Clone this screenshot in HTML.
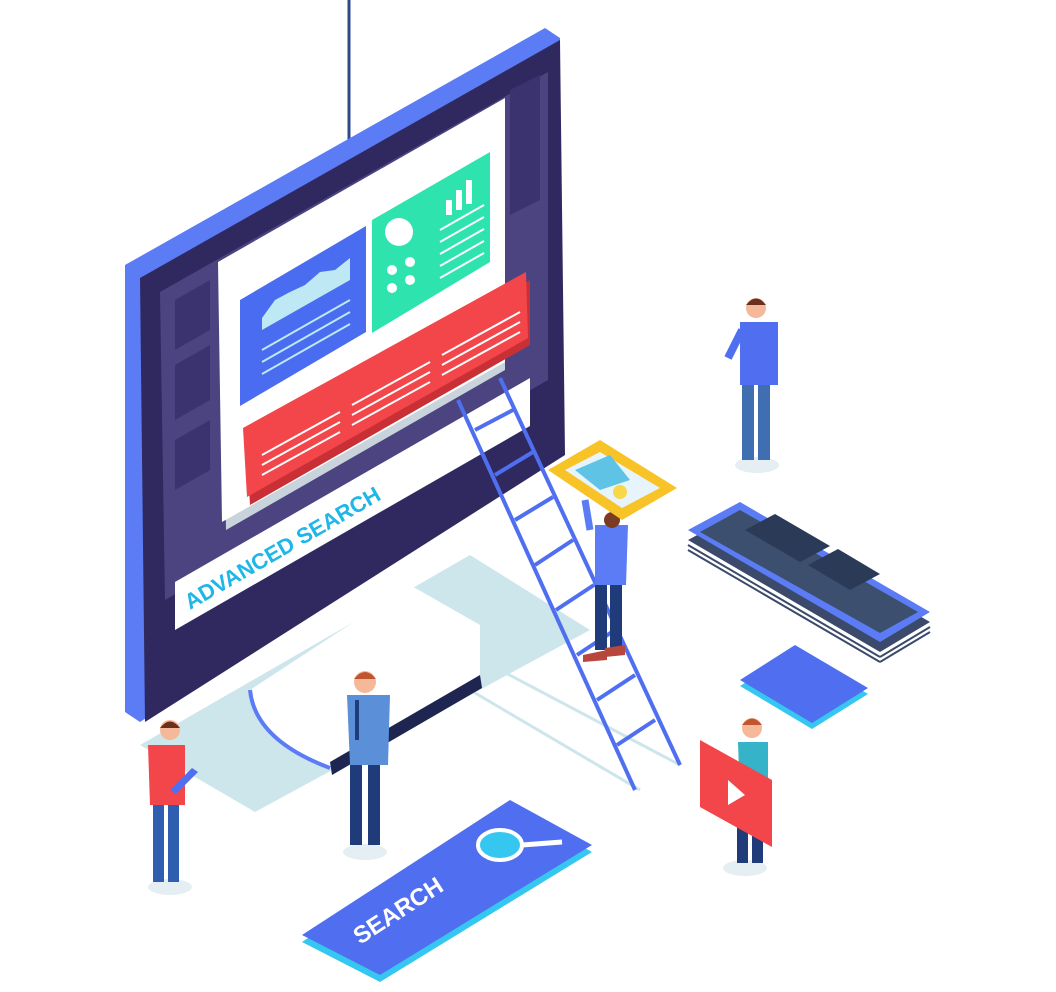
<!DOCTYPE html>
<html><head><meta charset="utf-8"><style>
html,body{margin:0;padding:0;background:#fff;}
svg{display:block;}
</style></head><body>
<svg width="1056" height="992" viewBox="0 0 1056 992" xmlns="http://www.w3.org/2000/svg">
<line x1="349" y1="0" x2="349" y2="196" stroke="#2e4a8e" stroke-width="3"/>
<polygon points="140,745 470,555 590,630 255,812" fill="#cde6ec"/>
<g stroke="#cde6ec" stroke-width="3" fill="none">
<line x1="470" y1="690" x2="640" y2="790"/><line x1="500" y1="670" x2="680" y2="765"/>
</g>
<!-- stand -->
<path d="M250,690 L410,585 L480,625 L480,680 L330,768 Q260,740 250,690 Z" fill="#fff"/>
<path d="M250,690 Q255,740 330,768" fill="none" stroke="#5b7cf5" stroke-width="4"/>
<polygon points="330,762 480,675 482,688 332,775" fill="#1d2550"/>
<!-- monitor -->
<polygon points="125,265 545,28 560,38 560,452 140,722 125,712" fill="#5b7cf5"/>
<polygon points="140,278 560,40 565,455 145,722" fill="#2f2960"/>
<polygon points="160,292 548,72 548,380 165,600" fill="#4b4480"/>
<g fill="#3a3370">
<polygon points="175,300 210,280 210,330 175,350"/>
<polygon points="175,365 210,345 210,400 175,420"/>
<polygon points="175,440 210,420 210,470 175,490"/>
<polygon points="510,90 540,75 540,200 510,215"/>
</g>
<polygon points="175,582 530,378 530,426 175,630" fill="#fff"/>
<text x="0" y="0" transform="translate(190,610) rotate(-30)" font-family="Liberation Sans, sans-serif" font-weight="bold" font-size="22" fill="#1fb6e8">ADVANCED SEARCH</text>
<polygon points="222,270 505,105 505,370 226,530" fill="#c9d3dc"/>
<polygon points="218,262 505,98 505,362 222,522" fill="#fff"/>
<polygon points="240,300 366,226 366,332 240,406" fill="#4a6cf0"/>
<path d="M262,318 L275,300 L290,292 L305,285 L320,272 L335,270 L350,258 L350,280 L262,330 Z" fill="#bfe8f5"/>
<g stroke="#bfe8f5" stroke-width="2"><line x1="262" y1="350" x2="350" y2="300"/><line x1="262" y1="362" x2="350" y2="312"/><line x1="262" y1="374" x2="350" y2="324"/></g>
<polygon points="372,220 490,152 490,262 372,333" fill="#2ee3ad"/>
<circle cx="399" cy="232" r="14" fill="#fff"/>
<g fill="#fff"><circle cx="392" cy="270" r="5"/><circle cx="410" cy="262" r="5"/><circle cx="392" cy="288" r="5"/><circle cx="410" cy="280" r="5"/></g>
<g stroke="#fff" stroke-width="2"><line x1="440" y1="230" x2="484" y2="205"/><line x1="440" y1="242" x2="484" y2="217"/><line x1="440" y1="254" x2="484" y2="229"/><line x1="440" y1="266" x2="484" y2="241"/><line x1="440" y1="278" x2="484" y2="253"/></g>
<g fill="#fff"><rect x="446" y="200" width="6" height="15"/><rect x="456" y="190" width="6" height="20"/><rect x="466" y="180" width="6" height="24"/></g>
<polygon points="246,436 530,280 530,345 250,505" fill="#c93036"/>
<polygon points="243,428 526,272 528,338 247,497" fill="#f2464a"/>
<g stroke="#fff" stroke-width="2">
<line x1="262" y1="455" x2="340" y2="412"/><line x1="262" y1="465" x2="340" y2="422"/><line x1="262" y1="475" x2="340" y2="432"/>
<line x1="352" y1="405" x2="430" y2="362"/><line x1="352" y1="415" x2="430" y2="372"/><line x1="352" y1="425" x2="430" y2="382"/>
<line x1="442" y1="355" x2="520" y2="312"/><line x1="442" y1="365" x2="520" y2="322"/><line x1="442" y1="375" x2="520" y2="332"/>
</g>
<g stroke="#4f6ff0" stroke-width="4" fill="none">
<line x1="458" y1="400" x2="635" y2="790"/><line x1="500" y1="378" x2="680" y2="765"/>
<line x1="475" y1="430" x2="513" y2="410"/><line x1="495" y1="475" x2="533" y2="452"/><line x1="515" y1="520" x2="553" y2="497"/>
<line x1="535" y1="565" x2="573" y2="540"/><line x1="556" y1="610" x2="594" y2="585"/><line x1="577" y1="655" x2="615" y2="630"/>
<line x1="597" y1="700" x2="635" y2="675"/><line x1="617" y1="745" x2="655" y2="720"/>
</g>
<rect x="595" y="580" width="12" height="70" fill="#1f3b7a"/><rect x="610" y="580" width="12" height="70" fill="#1f3b7a"/>
<polygon points="595,525 628,525 626,585 595,585" fill="#5b7cf5"/>
<line x1="590" y1="530" x2="585" y2="500" stroke="#5b7cf5" stroke-width="7"/>
<circle cx="612" cy="520" r="8" fill="#7a3b22"/>
<polygon points="583,655 607,650 607,660 583,662" fill="#b7463d"/><polygon points="605,648 625,645 625,655 605,657" fill="#b7463d"/>
<polygon points="548,470 600,440 677,488 622,520" fill="#f8c326"/>
<polygon points="565,470 600,452 660,488 622,508" fill="#e8f4fb"/>
<polygon points="575,470 610,455 630,480 600,490" fill="#5fc3e6"/><circle cx="620" cy="492" r="7" fill="#f8d84a"/>
<polygon points="688,540 740,512 930,622 880,652" fill="#3b4a6a"/>
<polygon points="688,530 740,502 930,612 880,642" fill="#5b7cf5"/>
<polygon points="700,532 740,510 918,612 880,633" fill="#3c4f6e"/>
<polygon points="745,530 775,514 830,546 800,562" fill="#2b3a57"/>
<polygon points="808,565 838,549 880,574 850,590" fill="#2b3a57"/>
<g stroke="#3b4a6a" stroke-width="2"><line x1="688" y1="545" x2="880" y2="657"/><line x1="688" y1="550" x2="880" y2="662"/><line x1="880" y1="657" x2="930" y2="627"/><line x1="880" y1="662" x2="930" y2="632"/></g>
<polygon points="740,686 795,651 868,694 812,729" fill="#35c7f0"/>
<polygon points="740,680 795,645 868,688 812,723" fill="#4f6ff0"/>
<polygon points="302,942 510,806 592,852 380,982" fill="#35c7f0"/>
<polygon points="302,935 510,800 592,845 380,975" fill="#4f6ff0"/>
<text x="0" y="0" transform="translate(360,945) rotate(-33)" font-family="Liberation Sans, sans-serif" font-weight="bold" font-size="24" fill="#fff">SEARCH</text>
<ellipse cx="500" cy="845" rx="22" ry="15" fill="#35c7f0" stroke="#fff" stroke-width="4"/>
<line x1="522" y1="845" x2="562" y2="842" stroke="#fff" stroke-width="5"/>
<ellipse cx="757" cy="465" rx="22" ry="8" fill="#e4eef3"/>
<rect x="742" y="378" width="12" height="82" fill="#3f6fb0"/><rect x="758" y="378" width="12" height="82" fill="#3f6fb0"/>
<polygon points="740,322 778,322 778,385 740,385" fill="#4f6ff0"/>
<line x1="742" y1="330" x2="728" y2="358" stroke="#4f6ff0" stroke-width="8"/>
<circle cx="756" cy="308" r="10" fill="#f5b999"/><path d="M746,305 Q756,292 766,305 Z" fill="#6b2f1e"/>
<ellipse cx="170" cy="887" rx="22" ry="8" fill="#e4eef3"/>
<rect x="153" y="800" width="11" height="82" fill="#2f5db0"/><rect x="168" y="800" width="11" height="82" fill="#2f5db0"/>
<polygon points="148,745 185,745 185,805 150,805" fill="#f2464a"/>
<polygon points="170,790 192,768 198,772 176,794" fill="#4f6ff0"/>
<circle cx="170" cy="730" r="10" fill="#f5b999"/><path d="M160,728 Q170,715 180,728 Z" fill="#6b2f1e"/>
<ellipse cx="365" cy="852" rx="22" ry="8" fill="#e4eef3"/>
<rect x="350" y="760" width="12" height="85" fill="#1f3b7a"/><rect x="368" y="760" width="12" height="85" fill="#1f3b7a"/>
<polygon points="347,695 390,695 388,765 350,765" fill="#5b8fd8"/>
<line x1="357" y1="700" x2="357" y2="740" stroke="#1f3b7a" stroke-width="4"/>
<circle cx="365" cy="682" r="11" fill="#f5b999"/><path d="M354,679 Q365,665 376,679 Z" fill="#c0552f"/>
<ellipse cx="745" cy="868" rx="22" ry="8" fill="#e4eef3"/>
<rect x="737" y="795" width="11" height="68" fill="#1f3b7a"/><rect x="752" y="795" width="11" height="68" fill="#1f3b7a"/>
<polygon points="738,742 768,742 768,800 740,800" fill="#35b3c8"/>
<circle cx="752" cy="728" r="10" fill="#f5b999"/><path d="M742,725 Q752,712 762,725 Z" fill="#c0552f"/>
<polygon points="700,740 772,780 772,847 700,807" fill="#f2464a"/>
<polygon points="728,780 745,795 728,805" fill="#fff"/>
</svg>
</body></html>
